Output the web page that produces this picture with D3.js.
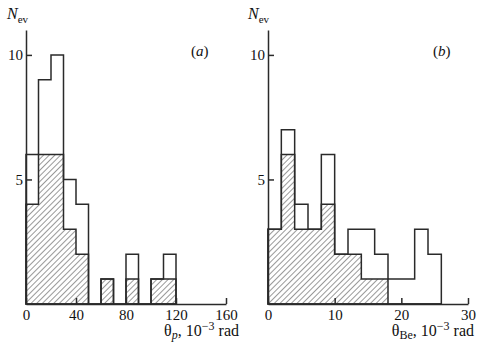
<!DOCTYPE html>
<html><head><meta charset="utf-8">
<script src="https://cdn.jsdelivr.net/npm/d3@7"></script>
<style>body{margin:0;background:#fff} svg{display:block} text{font-family:"Liberation Serif","DejaVu Serif",serif;fill:#111}</style>
</head><body>
<svg id="c" width="491" height="350"></svg>
<script>
// Panel (a): θp, 10^-3 rad
const edgesA = [0,10,20,30,40,50,60,70,80,90,100,110,120];
const totalA = [6,9,10,5,4,0,1,0,2,0,1,2];
const hatchA = [4,6,6,3,2,0,1,0,1,0,1,1];
const xTicksA = [0,40,80,120,160];
// Panel (b): θBe, 10^-3 rad
const edgesB = [0,2,4,6,8,10,12,14,16,18,20,22,24,26];
const totalB = [3,7,4,3,6,2,3,3,2,1,1,3,2];
const hatchB = [3,6,3,3,4,2,2,1,1,0,0,0,0];
const xTicksB = [0,10,20,30];
const yTicks = [5,10];

const svg = d3.select("#c");
const defs = svg.append("defs");
defs.append("pattern").attr("id","hatch").attr("patternUnits","userSpaceOnUse")
  .attr("width",4).attr("height",4).attr("patternTransform","rotate(45)")
  .append("line").attr("x1",0).attr("y1",0).attr("x2",0).attr("y2",4)
  .attr("stroke","#444").attr("stroke-width",1.1);

const y = d3.scaleLinear().domain([0,11]).range([304,30]);

function panel(o){
  const g = svg.append("g");
  const x = d3.scaleLinear().domain(o.xDomain).range(o.xRange);
  const pts = (counts) => {
    const p = counts.map((c,i)=>[o.edges[i], c]);
    p.push([o.edges[counts.length], counts[counts.length-1]]);
    return p;
  };
  const area = d3.area().x(d=>x(d[0])).y0(y(0)).y1(d=>y(d[1])).curve(d3.curveStepAfter);
  g.append("path").attr("d", area(pts(o.total))).attr("fill","#fff")
    .attr("stroke","#2a2a2a").attr("stroke-width",1.5);
  g.append("path").attr("d", area(pts(o.hatch))).attr("fill","url(#hatch)")
    .attr("stroke","#2a2a2a").attr("stroke-width",1.5);

  const xa = g.append("g").attr("transform",`translate(0,${y(0)})`)
    .call(d3.axisBottom(x).tickValues(o.xTicks).tickFormat(d3.format("d"))
      .tickSizeInner(-6).tickSizeOuter(0).tickPadding(5));
  const ya = g.append("g").attr("transform",`translate(${o.xRange[0]},0)`)
    .call(d3.axisLeft(y).tickValues(yTicks).tickSizeInner(-6).tickSizeOuter(0).tickPadding(3));
  [xa,ya].forEach(a=>{
    a.select(".domain").attr("stroke","#2a2a2a").attr("stroke-width",1.5);
    a.selectAll(".tick line").attr("stroke","#2a2a2a").attr("stroke-width",1.5);
    a.selectAll(".tick text").style("font-family","Liberation Serif").style("font-size","15px").attr("fill","#111");
  });

  // N_ev
  const n = g.append("text").attr("x",o.nx).attr("y",19).style("font-size","16px");
  n.append("tspan").style("font-style","italic").text("N");
  n.append("tspan").attr("dy",4).style("font-size","11px").text("ev");

  // panel tag
  const t = g.append("text").attr("x",o.tagX).attr("y",56).style("font-size","15px");
  t.append("tspan").text("(");
  t.append("tspan").style("font-style","italic").text(o.tag);
  t.append("tspan").text(")");

  // axis label
  const l = g.append("text").attr("x",o.labX).attr("y",336).attr("text-anchor","end").style("font-size","16px");
  l.append("tspan").text("θ");
  l.append("tspan").attr("dy",3).style("font-size","12px").style("font-style",o.subItalic?"italic":"normal").text(o.sub);
  l.append("tspan").attr("dy",-3).text(", 10");
  l.append("tspan").attr("dy",-6).style("font-size","12px").text("−3");
  l.append("tspan").attr("dy",6).text(" rad");
}

panel({xDomain:[0,160], xRange:[26,226], edges:edgesA, total:totalA, hatch:hatchA,
  xTicks:xTicksA, nx:7, tag:"a", tagX:191, labX:239, sub:"p", subItalic:true});
panel({xDomain:[0,30], xRange:[268,468], edges:edgesB, total:totalB, hatch:hatchB,
  xTicks:xTicksB, nx:248, tag:"b", tagX:433, labX:474, sub:"Be", subItalic:false});
</script>
</body></html>
